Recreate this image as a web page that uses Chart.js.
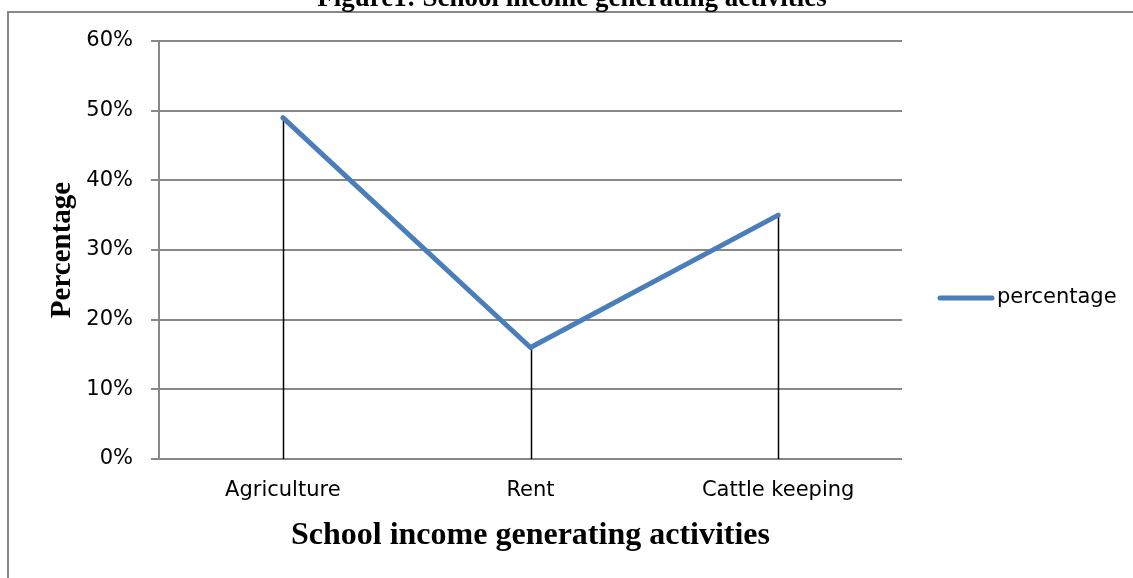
<!DOCTYPE html>
<html>
<head>
<meta charset="utf-8">
<script src="https://cdn.jsdelivr.net/npm/chart.js@4/dist/chart.umd.min.js"></script>
<style>
	body { margin: 0; background: #fff; }
	#wrap { width: 1133px; height: 578px; position: relative; }
</style>
</head>
<body>
<div id="wrap"><canvas id="chart"></canvas></div>
<script>
"use strict";

var categories = ["Agriculture", "Rent", "Cattle keeping"];
var percentages = [49, 16, 35];
var seriesName = "percentage";
var yTicks = [0, 10, 20, 30, 40, 50, 60];

var chartTitle = "Figure1: School income generating activities";
var xTitle = "School income generating activities";
var yTitle = "Percentage";

var gridColor = "#888888";
var lineColor = "#4a7ebb";

// frame, cut-off figure caption and legend
var decorPlugin = {
	id: "decor",
	beforeDraw: function(chart) {
		var ctx = chart.ctx;
		ctx.save();
		ctx.strokeStyle = gridColor;
		ctx.lineWidth = 2;
		ctx.beginPath();
		ctx.moveTo(8, 578);
		ctx.lineTo(8, 12);
		ctx.lineTo(1133, 12);
		ctx.stroke();

		ctx.fillStyle = "#000";
		ctx.font = "bold 27px 'Liberation Serif'";
		ctx.textAlign = "center";
		ctx.textBaseline = "alphabetic";
		ctx.fillText(chartTitle, 572, 6);
		ctx.restore();
	},
	afterDraw: function(chart) {
		var ctx = chart.ctx;
		ctx.save();
		ctx.strokeStyle = lineColor;
		ctx.lineWidth = 5;
		ctx.lineCap = "round";
		ctx.beginPath();
		ctx.moveTo(940, 298);
		ctx.lineTo(992, 298);
		ctx.stroke();
		ctx.fillStyle = "#000";
		ctx.font = "21px 'DejaVu Sans'";
		ctx.textAlign = "left";
		ctx.textBaseline = "middle";
		ctx.fillText(seriesName, 997, 298);
		ctx.restore();
	}
};

// black drop lines from each point down to the axis
var dropLinePlugin = {
	id: "dropLines",
	beforeDatasetsDraw: function(chart) {
		var ctx = chart.ctx;
		var meta = chart.getDatasetMeta(0);
		var bottom = chart.scales.y.getPixelForValue(0);
		ctx.save();
		ctx.strokeStyle = "#000";
		ctx.lineWidth = 1.5;
		meta.data.forEach(function(pt) {
			ctx.beginPath();
			ctx.moveTo(Math.round(pt.x) + 0.5, pt.y);
			ctx.lineTo(Math.round(pt.x) + 0.5, bottom);
			ctx.stroke();
		});
		ctx.restore();
	}
};

Chart.defaults.font.family = "'DejaVu Sans'";
Chart.defaults.font.size = 21;
Chart.defaults.color = "#000";

new Chart(document.getElementById("chart"), {
	type: "line",
	data: {
		labels: categories,
		datasets: [{
			label: seriesName,
			data: percentages,
			borderColor: lineColor,
			backgroundColor: lineColor,
			borderWidth: 5,
			borderCapStyle: "round",
			borderJoinStyle: "round",
			pointRadius: 0,
			tension: 0,
			fill: false
		}]
	},
	options: {
		responsive: true,
		maintainAspectRatio: false,
		animation: false,
		layout: { padding: { top: 41, right: 231, bottom: 0, left: 0 } },
		plugins: {
			legend: { display: false },
			title: { display: false },
			tooltip: { enabled: false }
		},
		scales: {
			x: {
				offset: true,
				grid: { display: false, drawTicks: false },
				border: { display: false },
				ticks: { padding: 19, maxRotation: 0 },
				title: {
					display: true,
					text: xTitle,
					font: { family: "'Liberation Serif'", size: 32, weight: "bold" },
					padding: { top: 0, bottom: 23 }
				},
				afterFit: function(scale) { scale.height = 119; }
			},
			y: {
				min: 0,
				max: 60,
				afterBuildTicks: function(scale) {
					scale.ticks = yTicks.map(function(v) { return { value: v }; });
				},
				grid: { color: gridColor, lineWidth: 2, tickLength: 8 },
				border: { display: true, color: gridColor, width: 2 },
				ticks: {
					padding: 18,
					callback: function(v) { return v + "%"; }
				},
				title: {
					display: true,
					text: yTitle,
					font: { family: "'Liberation Serif'", size: 29, weight: "bold" },
					padding: { top: 45, bottom: 0 }
				},
				afterFit: function(scale) { scale.width = 159; }
			}
		}
	},
	plugins: [decorPlugin, dropLinePlugin]
});
</script>
</body>
</html>
